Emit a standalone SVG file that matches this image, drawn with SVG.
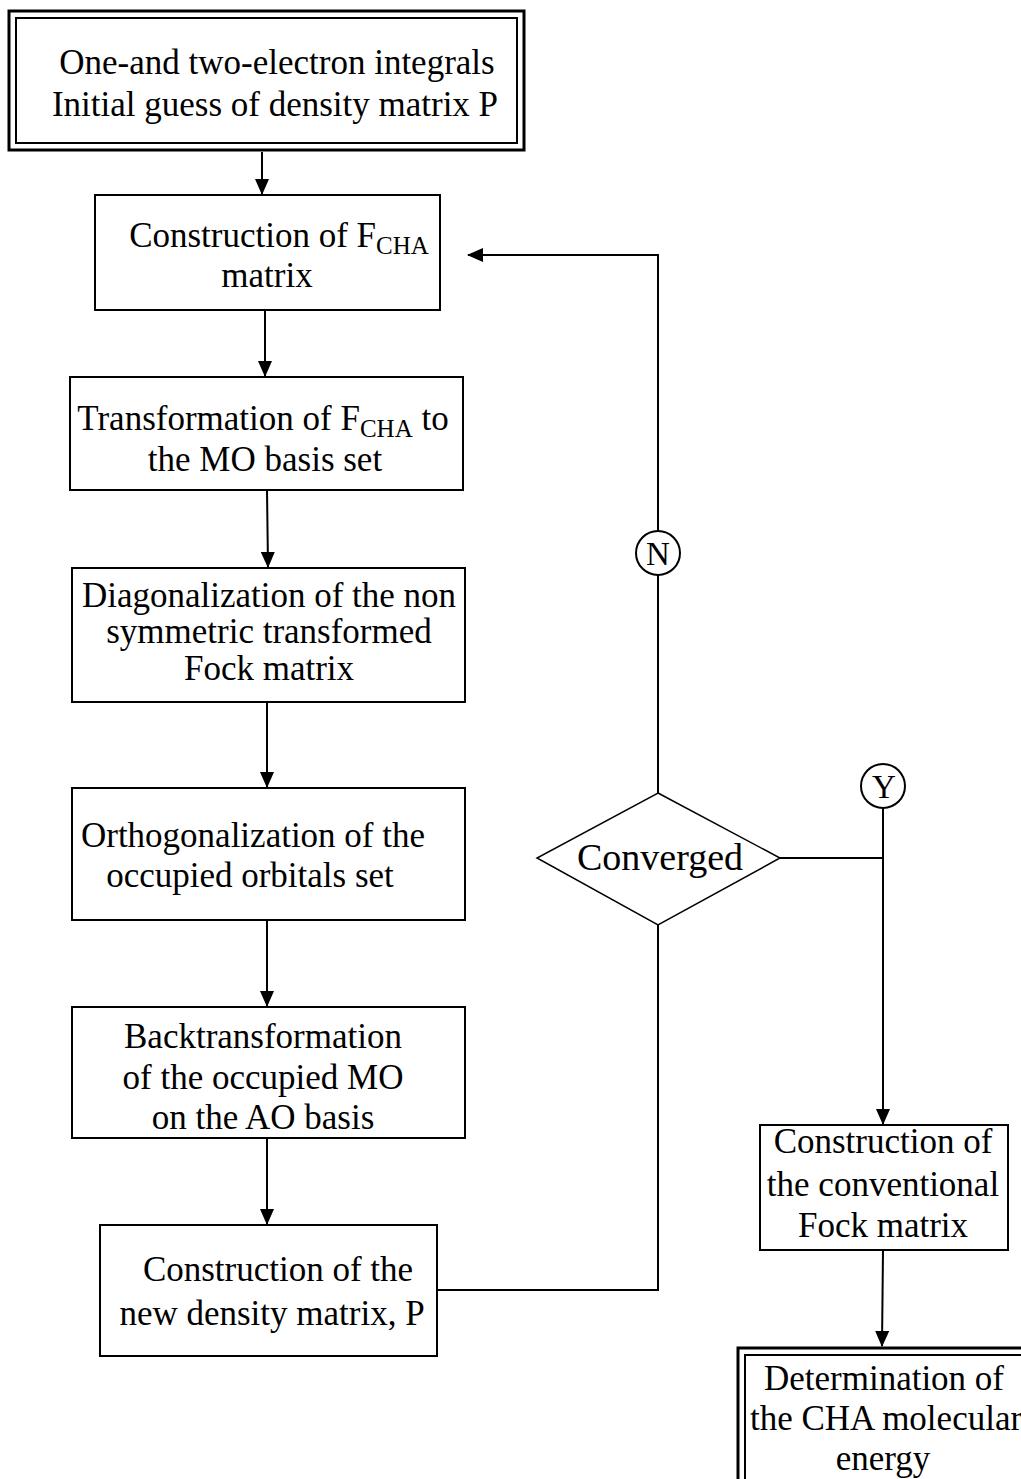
<svg xmlns="http://www.w3.org/2000/svg" width="1021" height="1479" viewBox="0 0 1021 1479">
<style>
.box{fill:#fff;stroke:#000;stroke-width:2}
.t{font-family:"Liberation Serif","Times New Roman",serif;font-size:35px;fill:#000;text-anchor:middle}
.sub{font-size:25px}
.ln{fill:none;stroke:#000;stroke-width:2}
</style>
<defs>
<marker id="ah" markerWidth="16" markerHeight="14" refX="15" refY="7" orient="auto" markerUnits="userSpaceOnUse" viewBox="0 0 16 14">
<path d="M0,0 L16,7 L0,14 Z" fill="#000"/>
</marker>
</defs>
<rect width="1021" height="1479" fill="#fff"/>
<g id="connectors">
<line class="ln" x1="262" y1="152" x2="262" y2="194" marker-end="url(#ah)"/>
<line class="ln" x1="265" y1="310" x2="265" y2="376" marker-end="url(#ah)"/>
<line class="ln" x1="267" y1="490" x2="268" y2="567" marker-end="url(#ah)"/>
<line class="ln" x1="267" y1="702" x2="267" y2="787" marker-end="url(#ah)"/>
<line class="ln" x1="267" y1="920" x2="267" y2="1006" marker-end="url(#ah)"/>
<line class="ln" x1="267" y1="1138" x2="267" y2="1224" marker-end="url(#ah)"/>
<polyline class="ln" points="437,1290 658,1290 658,925"/>
<polyline class="ln" points="658,793 658,575"/>
<polyline class="ln" points="658,531 658,255 468,255" marker-end="url(#ah)"/>
<polyline class="ln" points="780,858 883,858 883,764"/>
<line class="ln" x1="883" y1="808" x2="883" y2="1124" marker-end="url(#ah)"/>
<line class="ln" x1="883" y1="1250" x2="882" y2="1346" marker-end="url(#ah)"/>
</g>
<g id="start">
<rect x="9" y="11" width="515" height="139" fill="#fff" stroke="#000" stroke-width="3"/>
<rect x="16" y="18" width="501" height="125" fill="none" stroke="#000" stroke-width="2"/>
<text class="t" x="277" y="74">One-and two-electron integrals</text>
<text class="t" x="275" y="116">Initial guess of density matrix P</text>
</g>
<g id="fcha">
<rect class="box" x="95" y="195" width="345" height="115"/>
<text class="t" x="279" y="247">Construction of F<tspan class="sub" dy="7">CHA</tspan></text>
<text class="t" x="267" y="287">matrix</text>
</g>
<g id="transform">
<rect class="box" x="70" y="377" width="393" height="113"/>
<text class="t" x="263" y="430">Transformation of F<tspan class="sub" dy="7">CHA</tspan><tspan dy="-7"> to</tspan></text>
<text class="t" x="265" y="471">the MO basis set</text>
</g>
<g id="diag">
<rect class="box" x="72" y="568" width="393" height="134"/>
<text class="t" x="269" y="607">Diagonalization of the non</text>
<text class="t" x="269" y="643">symmetric transformed</text>
<text class="t" x="269" y="680">Fock matrix</text>
</g>
<g id="ortho">
<rect class="box" x="72" y="788" width="393" height="132"/>
<text class="t" x="253" y="847">Orthogonalization of the</text>
<text class="t" x="250" y="887">occupied orbitals set</text>
</g>
<g id="backtrans">
<rect class="box" x="72" y="1007" width="393" height="131"/>
<text class="t" x="263" y="1048">Backtransformation</text>
<text class="t" x="263" y="1089">of the occupied MO</text>
<text class="t" x="263" y="1129">on the AO basis</text>
</g>
<g id="newdensity">
<rect class="box" x="100" y="1225" width="337" height="131"/>
<text class="t" x="278" y="1281">Construction of the</text>
<text class="t" x="272" y="1325">new density matrix, P</text>
</g>
<g id="converged">
<polygon points="658,793 780,858 658,925 537,858" fill="#fff" stroke="#000" stroke-width="1.5"/>
<text class="t" x="660" y="870" style="font-size:38px">Converged</text>
</g>
<g id="n">
<circle cx="658" cy="553" r="22" fill="#fff" stroke="#000" stroke-width="2"/>
<text class="t" x="658" y="565" style="font-size:33px">N</text>
</g>
<g id="y">
<circle cx="883" cy="786" r="22" fill="#fff" stroke="#000" stroke-width="2"/>
<text class="t" x="884" y="798" style="font-size:33px">Y</text>
</g>
<g id="conventional">
<rect class="box" x="760" y="1125" width="248" height="125"/>
<text class="t" x="883" y="1153">Construction of</text>
<text class="t" x="883" y="1196">the conventional</text>
<text class="t" x="883" y="1237">Fock matrix</text>
</g>
<g id="energy">
<rect x="738" y="1348" width="300" height="140" fill="#fff" stroke="#000" stroke-width="3"/>
<rect x="745" y="1355" width="290" height="130" fill="none" stroke="#000" stroke-width="2"/>
<text class="t" x="884" y="1390">Determination of</text>
<text class="t" x="886" y="1430">the CHA molecular</text>
<text class="t" x="883" y="1470">energy</text>
</g>
</svg>
